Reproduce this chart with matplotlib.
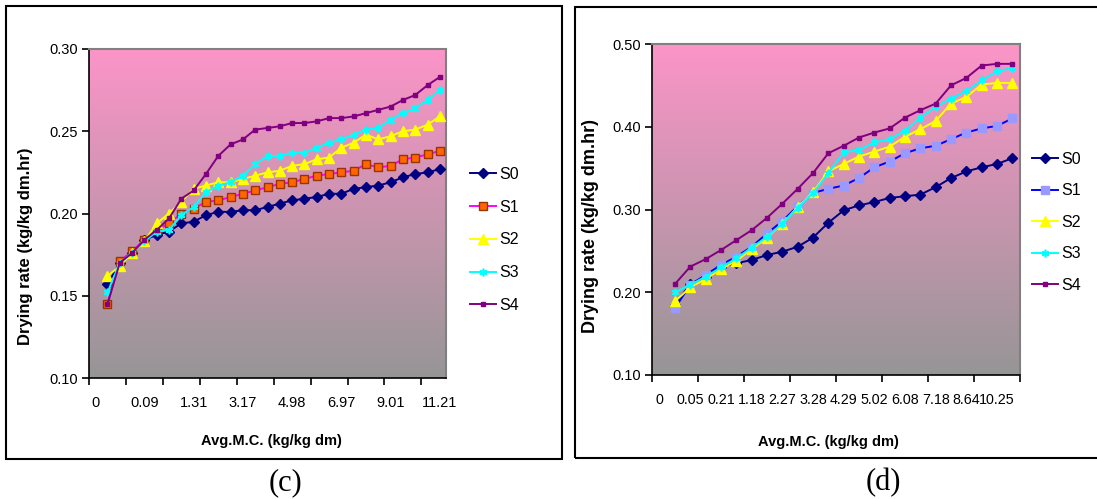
import numpy as np
import matplotlib
matplotlib.use('Agg')
import matplotlib.pyplot as plt
from matplotlib.patches import Rectangle

matplotlib.rcParams['font.family'] = ['Liberation Sans', 'DejaVu Sans']

# ---- panel (c) ----
labels_c = ['0', '0.09', '1.31', '3.17', '4.98', '6.97', '9.01', '11.21']
S0_c = [0.157, 0.170, 0.176, 0.184, 0.187, 0.189, 0.194, 0.195, 0.199, 0.201,
        0.201, 0.202, 0.202, 0.204, 0.206, 0.208, 0.209, 0.210, 0.212, 0.212,
        0.215, 0.216, 0.217, 0.219, 0.222, 0.224, 0.225, 0.227]
S1_c = [0.145, 0.171, 0.177, 0.184, 0.190, 0.194, 0.200, 0.203, 0.207, 0.208,
        0.210, 0.212, 0.214, 0.216, 0.218, 0.219, 0.221, 0.223, 0.224, 0.225,
        0.226, 0.230, 0.228, 0.229, 0.233, 0.234, 0.236, 0.238]
S2_c = [0.162, 0.168, 0.176, 0.183, 0.194, 0.200, 0.207, 0.215, 0.217, 0.219,
        0.219, 0.221, 0.223, 0.225, 0.226, 0.229, 0.230, 0.233, 0.234, 0.240,
        0.243, 0.248, 0.245, 0.247, 0.250, 0.251, 0.254, 0.259]
S3_c = [0.152, 0.170, 0.176, 0.183, 0.189, 0.190, 0.199, 0.204, 0.213, 0.217,
        0.219, 0.223, 0.230, 0.235, 0.235, 0.237, 0.237, 0.240, 0.243, 0.245,
        0.248, 0.251, 0.252, 0.257, 0.261, 0.264, 0.269, 0.275]
S4_c = [0.145, 0.170, 0.176, 0.184, 0.190, 0.197, 0.209, 0.214, 0.224, 0.235,
        0.242, 0.245, 0.251, 0.252, 0.253, 0.255, 0.255, 0.256, 0.258, 0.258,
        0.259, 0.261, 0.263, 0.265, 0.269, 0.272, 0.278, 0.283]

# ---- panel (d) ----
labels_d = ['0', '0.05', '0.21', '1.18', '2.27', '3.28', '4.29', '5.02',
            '6.08', '7.18', '8.64', '10.25']
S0_d = [0.185, 0.210, 0.219, 0.231, 0.235, 0.239, 0.245, 0.249, 0.255, 0.266,
        0.284, 0.299, 0.305, 0.309, 0.314, 0.316, 0.318, 0.327, 0.338, 0.346,
        0.351, 0.355, 0.362]
S1_d = [0.181, 0.209, 0.221, 0.233, 0.243, 0.255, 0.271, 0.286, 0.304, 0.320,
        0.325, 0.329, 0.338, 0.351, 0.358, 0.368, 0.374, 0.377, 0.385, 0.393,
        0.398, 0.401, 0.410]
S2_d = [0.189, 0.206, 0.216, 0.228, 0.238, 0.252, 0.266, 0.283, 0.303, 0.321,
        0.346, 0.355, 0.364, 0.370, 0.376, 0.388, 0.397, 0.407, 0.428, 0.436,
        0.451, 0.453, 0.453]
S3_d = [0.200, 0.209, 0.219, 0.230, 0.241, 0.254, 0.267, 0.283, 0.302, 0.320,
        0.344, 0.369, 0.372, 0.381, 0.385, 0.395, 0.411, 0.424, 0.434, 0.443,
        0.456, 0.467, 0.471]
S4_d = [0.210, 0.231, 0.240, 0.251, 0.263, 0.275, 0.290, 0.307, 0.325, 0.344,
        0.368, 0.377, 0.387, 0.393, 0.398, 0.411, 0.420, 0.428, 0.450, 0.459,
        0.474, 0.476, 0.476]

names = ['S0', 'S1', 'S2', 'S3', 'S4']

style_c = [
    dict(color='#000080', marker='D', ms=5.5, mfc='#000080', mec='#000080'),
    dict(color='#FF00FF', marker='s', ms=5.5, mfc='#FF6600', mec='#993300'),
    dict(color='#FFFF00', marker='^', ms=7.5, mfc='#FFFF00', mec='#FFFF00'),
    dict(color='#00FFFF', marker=(6, 2, 0), ms=5.5, mec='#00FFFF', mew=1.2),
    dict(color='#800080', marker='s', ms=3.5, mfc='#800080', mec='#800080'),
]
style_d = [
    dict(color='#000080', marker='D', ms=5.5, mfc='#000080', mec='#000080'),
    dict(color='#0000FF', marker='s', ms=6, mfc='#9999FF', mec='#9999FF'),
    dict(color='#FFFF00', marker='^', ms=7.5, mfc='#FFFF00', mec='#FFFF00'),
    dict(color='#00FFFF', marker=(6, 2, 0), ms=5.5, mec='#00FFFF', mew=1.2),
    dict(color='#800080', marker='s', ms=3.5, mfc='#800080', mec='#800080'),
]

W, H = 1097, 499
fig = plt.figure(figsize=(W / 100, H / 100), dpi=100)

# gradient pink -> grey (Excel plot area fill)
top = np.array([252, 148, 200]) / 255
bot = np.array([150, 150, 150]) / 255
t = np.linspace(0, 1, 256)[:, None]
grad = (top * (1 - t) + bot * t)[:, None, :]


def px(x0, y0, x1, y1):
    return [x0 / W, 1 - y1 / H, (x1 - x0) / W, (y1 - y0) / H]


def panel(rect, series, styles, ncat, labels, lstep, xfs, ylim, yticks,
          ylab_size, xl_pos, yl_pos, leg_anchor, leg_space):
    ax = fig.add_axes(rect)
    ax.imshow(grad, extent=[-0.5, ncat - 0.5, ylim[0], ylim[1]],
              aspect='auto', zorder=0)
    for vals, name, st in zip(series, names, styles):
        x = np.arange(1, len(vals) + 1)
        ax.plot(x, vals, lw=1.4, label=name, zorder=3, **st)
    ax.set_xlim(-0.5, ncat - 0.5)
    ax.set_ylim(*ylim)
    ax.set_yticks(yticks)
    ax.set_yticklabels(['%.2f' % v for v in yticks], fontsize=10.5)
    ax.set_xticks(np.arange(-0.5, ncat, 3))
    ax.set_xticklabels([])
    ax.set_xticks(np.arange(0, ncat, lstep), minor=True)
    ax.set_xticklabels(labels, minor=True, fontsize=xfs)
    ax.tick_params(axis='x', which='minor', length=0, pad=13)
    ax.tick_params(axis='x', which='major', length=5, width=1.2)
    ax.tick_params(axis='y', length=5, width=1.2, pad=3)
    for s in ['top', 'right']:
        ax.spines[s].set_color('#808080')
        ax.spines[s].set_linewidth(1.5)
    for s in ['left', 'bottom']:
        ax.spines[s].set_linewidth(1.2)
    ax.set_xlabel('Avg.M.C. (kg/kg dm)', fontsize=10.5, fontweight='bold')
    ax.xaxis.set_label_coords(*xl_pos)
    ax.xaxis.label.set_va('center')
    ax.set_ylabel('Drying rate (kg/kg dm.hr)', fontsize=ylab_size,
                  fontweight='bold')
    ax.yaxis.set_label_coords(*yl_pos)
    ax.yaxis.label.set_va('center')
    fig.legend(*ax.get_legend_handles_labels(), loc='upper left',
               bbox_to_anchor=leg_anchor, frameon=False, fontsize=11.5,
               handlelength=1.6, handletextpad=0.25, labelspacing=leg_space,
               borderpad=0, borderaxespad=0)
    return ax


panel(px(89, 49, 446, 378), [S0_c, S1_c, S2_c, S3_c, S4_c], style_c,
      29, labels_c, 4, 10.5, (0.10, 0.30), [0.10, 0.15, 0.20, 0.25, 0.30], 12,
      (0.51, -0.19), (-0.179, 0.40), (470 / W, 1 - 167 / H), 1.11)
panel(px(652, 44, 1020, 375), [S0_d, S1_d, S2_d, S3_d, S4_d], style_d,
      24, labels_d, 2, 10.3, (0.10, 0.50), [0.10, 0.20, 0.30, 0.40, 0.50], 13,
      (0.479, -0.202), (-0.1675, 0.45), (1032 / W, 1 - 152 / H), 1.03)

# panel frames and captions
fig.patches.append(Rectangle((6 / W, 1 - 459 / H), 556 / W, 453 / H,
                             transform=fig.transFigure, fill=False,
                             lw=1.5, ec='black'))
fig.patches.append(Rectangle((575 / W, 1 - 458 / H), 540 / W, 451 / H,
                             transform=fig.transFigure, fill=False,
                             lw=1.5, ec='black'))
fig.text(285 / W, 1 - 483 / H, '(c)', fontsize=22, family='Liberation Serif',
         ha='center', va='center')
fig.text(883 / W, 1 - 483 / H, '(d)', fontsize=22, family='Liberation Serif',
         ha='center', va='center')

fig.savefig('out.png', dpi=100, facecolor='white')
